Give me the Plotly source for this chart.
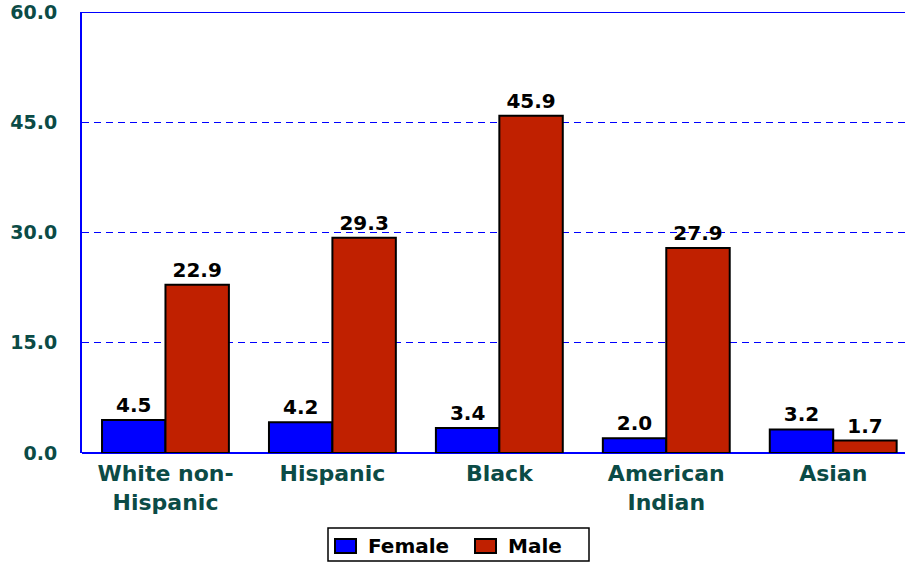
import plotly.graph_objects as go

categories = ["White non-<br>Hispanic", "Hispanic", "Black", "American<br>Indian", "Asian"]
female = [4.5, 4.2, 3.4, 2.0, 3.2]
male = [22.9, 29.3, 45.9, 27.9, 1.7]
series_names = ["Female", "Male"]
y_ticks = [0, 15, 30, 45, 60]
y_tick_labels = ["0.0", "15.0", "30.0", "45.0", "60.0"]

xpos = list(range(len(categories)))
FONT = "DejaVu Sans, Verdana, sans-serif"
TEAL = "#0b4b46"
BLUE = "#0000ff"
RED = "#c02000"

fig = go.Figure()
for name, vals, col in [(series_names[0], female, BLUE), (series_names[1], male, RED)]:
    fig.add_trace(go.Bar(x=xpos, y=vals, name=name,
                         marker=dict(color=col, line=dict(color="black", width=2)),
                         text=[f"{v:.1f}" for v in vals], textposition="outside", cliponaxis=False,
                         textfont=dict(family=FONT, size=20, color="black", weight="bold")))

fig.update_layout(
    width=905, height=563,
    margin=dict(l=82, r=0, t=12, b=110),
    plot_bgcolor="white", paper_bgcolor="white",
    barmode="group", bargap=0.24, bargroupgap=0,
    font=dict(family=FONT, color=TEAL),
    showlegend=False,
    xaxis=dict(range=[-0.5, 4.43], tickmode="array", tickvals=xpos, ticktext=categories,
               tickfont=dict(family=FONT, size=22, color=TEAL, weight="bold"),
               showgrid=False, showline=False, zeroline=False, ticks="", ticklabelstandoff=5,
               automargin=False),
    yaxis=dict(range=[0, 60], tickmode="array", tickvals=y_ticks, ticktext=y_tick_labels,
               tickfont=dict(family=FONT, size=19, color=TEAL, weight="bold"),
               showgrid=True, gridcolor=BLUE, griddash="7px,5px", gridwidth=1,
               zeroline=True, zerolinecolor=BLUE, zerolinewidth=2,
               showline=True, linecolor=BLUE, linewidth=2, mirror=False,
               ticks="", ticklabelstandoff=19, automargin=False),
)
fig.add_shape(type="line", xref="paper", yref="y", x0=0, x1=1, y0=60, y1=60,
              line=dict(color=BLUE, width=2))

# manual legend (pixel -> paper conversion)
L, PW, T, PH = 82, 823, 12, 441
def px(x):
    return (x - L) / PW
def py(y):
    return 1 - (y - T) / PH

fig.add_shape(type="rect", xref="paper", yref="paper", x0=px(328), x1=px(589), y0=py(528), y1=py(561),
              line=dict(color="black", width=1.5), fillcolor="white")
for (sx0, sx1, tx), name, col in [((335, 356, 366), series_names[0], BLUE), ((475, 496, 506), series_names[1], RED)]:
    fig.add_shape(type="rect", xref="paper", yref="paper", x0=px(sx0), x1=px(sx1), y0=py(539), y1=py(553),
                  line=dict(color="black", width=2), fillcolor=col)
    fig.add_annotation(xref="paper", yref="paper", x=px(tx), y=py(546), text=name, showarrow=False,
                       xanchor="left", yanchor="middle",
                       font=dict(family=FONT, size=20, color="black", weight="bold"))

fig.write_html("out.html", config={"displayModeBar": False, "staticPlot": True},
               post_script="document.body.style.margin='0';document.body.style.overflow='hidden';")
